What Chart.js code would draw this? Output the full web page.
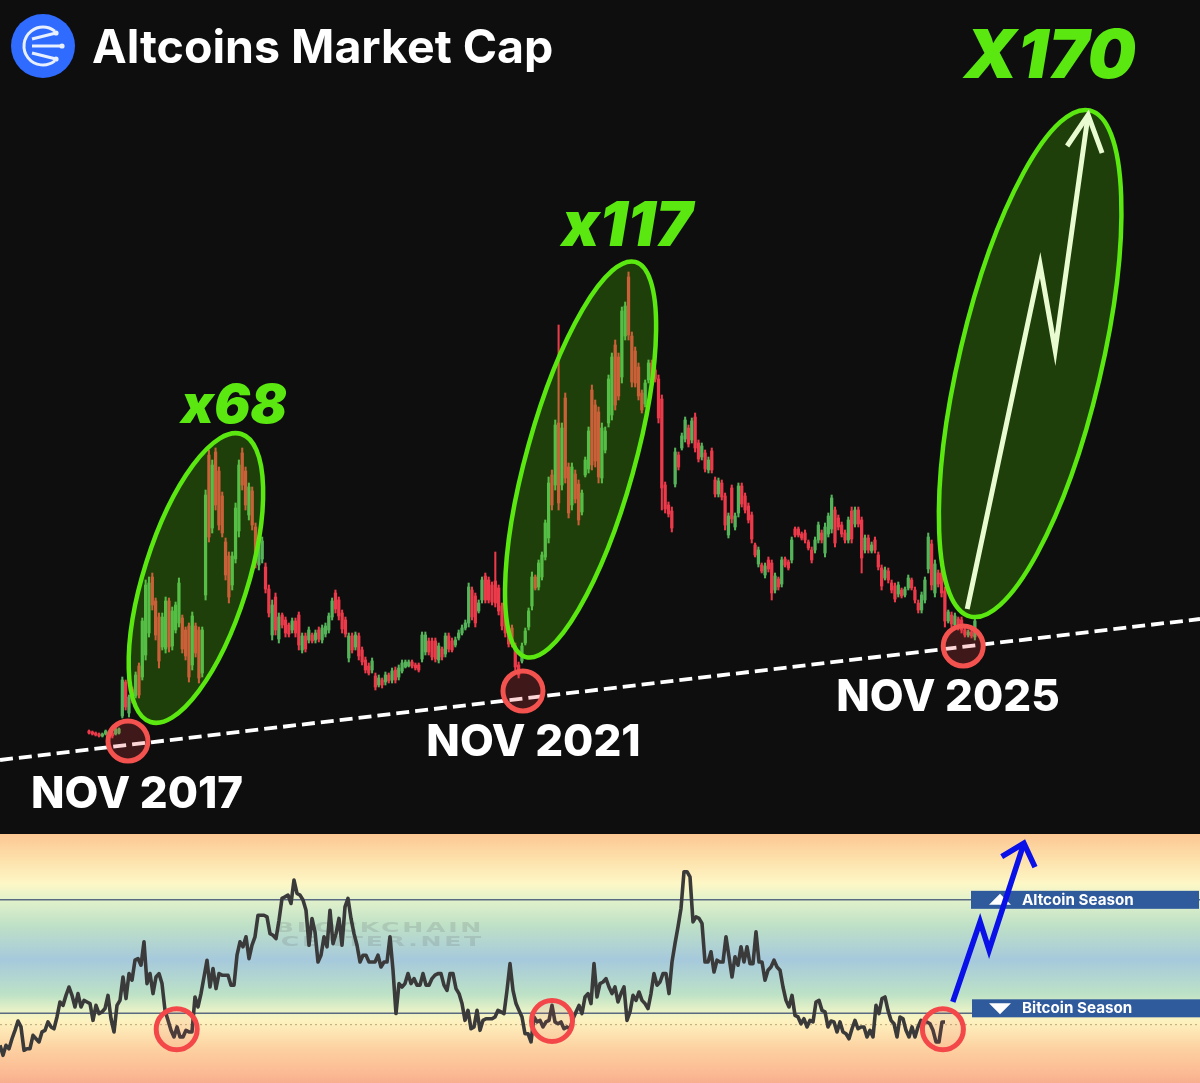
<!DOCTYPE html>
<html>
<head>
<meta charset="utf-8">
<title>Altcoins Market Cap</title>
<script src="https://cdn.jsdelivr.net/npm/chart.js@4"></script>
<style>
  html, body { margin: 0; padding: 0; background: #0e0e0e; overflow: hidden; }
  canvas { position: absolute; left: 0; display: block; }
  #priceChart { top: 0; }
  #seasonChart { top: 834px; }
</style>
</head>
<body>
<canvas id="priceChart" width="1200" height="833"></canvas>
<canvas id="seasonChart" width="1200" height="249"></canvas>
<script>
// weekly-ish candles, heights (no axis in the original, so relative units)
const highs = [103,102,101,100,100,103,101,101,105,105,156,153,138,146,161,170,215,253,256,260,235,220,220,236,235,226,231,255,218,206,210,221,210,206,206,343,383,373,385,366,341,295,281,281,330,373,385,366,350,346,310,298,296,270,248,233,240,220,220,216,210,215,215,221,200,200,206,200,203,206,208,210,220,235,243,236,223,216,200,200,201,200,186,176,170,175,160,158,
  155,161,160,165,166,168,173,173,173,173,170,170,201,201,195,195,195,190,186,200,200,195,196,203,208,213,250,246,240,233,256,260,256,251,281,248,230,223,206,208,190,171,190,205,225,261,258,273,281,313,356,363,413,508,410,440,370,370,363,353,343,376,406,448,433,426,410,406,458,480,493,480,526,531,561,501,486,470,443,453,473,473,466,458,438,351,331,326,385,
  381,400,416,408,415,420,393,390,383,376,385,356,355,353,340,320,348,320,350,350,340,330,321,290,286,270,270,276,273,260,256,276,276,273,296,306,306,301,303,293,286,296,311,303,310,320,338,326,318,311,303,316,326,326,326,316,298,298,291,296,281,268,266,265,253,250,251,245,246,258,255,246,233,241,256,300,293,273,263,263,246,223,221,220,216,216,205,203,203,216];
const lows = [99,98,97,96,96,98,98,95,98,99,115,123,116,130,135,135,153,173,196,223,193,165,183,180,181,183,200,206,180,173,151,163,176,150,156,233,291,300,323,303,296,253,230,243,270,296,343,323,313,303,265,263,270,240,216,193,198,190,205,196,196,200,196,183,180,181,190,190,190,191,190,196,200,213,220,213,200,196,171,180,183,173,168,160,158,160,143,146,
  145,148,150,150,150,153,160,165,166,165,163,161,171,178,178,173,171,170,173,176,181,181,186,193,198,203,206,213,206,220,230,230,230,228,226,218,203,196,186,186,163,155,170,188,203,223,243,243,253,273,290,323,343,323,343,350,315,323,330,308,318,356,360,363,366,350,350,380,406,413,423,433,450,493,493,446,446,433,420,426,450,450,451,410,323,320,316,301,346,
  363,383,391,386,390,381,371,373,361,360,360,336,336,333,303,295,310,303,316,326,320,310,290,276,266,260,255,261,233,240,243,246,266,263,270,296,296,293,290,283,270,280,290,290,276,296,300,286,303,296,290,290,290,306,306,260,280,280,280,280,263,243,253,250,240,231,236,235,236,243,243,230,220,220,230,260,243,236,246,236,206,210,206,206,203,200,196,196,195,193];
const opens = [102,101,100,99,97,99,100,100,99,100,117,151,120,144,137,167,156,178,200,256,232,216,186,184,232,187,203,210,215,203,207,168,207,203,160,238,378,305,381,362,337,291,277,248,274,302,380,362,318,342,306,268,274,266,244,198,236,194,218,213,208,203,212,218,183,197,193,198,193,203,193,199,203,216,240,233,220,213,175,197,186,197,183,173,167,163,157,148,
  153,151,158,153,163,156,162,166,167,171,168,168,174,181,192,192,192,173,184,179,197,192,188,195,200,205,210,243,237,222,233,257,253,248,252,245,227,220,203,205,187,168,172,190,206,227,256,246,256,276,295,358,348,410,348,435,366,328,359,349,321,358,364,443,428,421,355,383,410,418,488,476,456,497,556,497,482,466,440,429,453,470,463,454,434,348,328,322,349,
  378,385,394,405,393,416,390,376,380,363,382,353,339,350,337,298,345,306,320,347,337,327,318,288,269,268,258,273,270,243,254,249,274,271,273,304,304,299,300,291,283,283,293,300,280,299,304,323,315,308,300,293,322,309,323,313,283,295,282,293,278,265,255,262,250,247,239,243,238,245,253,243,230,223,233,264,289,240,260,260,242,212,218,208,214,213,203,198,201,196];
const closes = [100,99,98,97,99,102,99,97,104,104,153,126,136,133,158,138,212,248,250,228,198,172,216,232,186,222,228,250,184,177,156,217,180,155,203,338,296,368,328,308,300,258,236,277,325,368,348,328,346,308,270,294,292,244,220,228,203,216,208,200,199,212,200,188,197,184,203,192,200,194,205,207,217,232,224,217,204,199,197,183,198,177,171,163,160,172,146,155,
  148,158,152,162,153,165,170,171,171,167,165,163,198,198,181,176,174,187,176,197,184,183,193,200,205,210,246,216,210,230,253,233,233,231,230,222,207,200,189,189,166,158,187,202,222,256,245,270,278,310,350,328,408,330,405,355,320,366,334,313,340,373,402,368,372,356,405,402,454,476,428,437,522,527,498,451,450,437,423,450,470,453,454,415,345,324,319,305,381,
  366,397,413,389,412,385,374,387,364,373,363,339,352,336,308,317,314,317,347,329,323,313,294,278,283,262,267,264,240,257,246,273,268,265,293,298,298,295,293,285,273,293,308,293,306,317,335,290,306,299,293,313,294,323,309,275,295,283,288,283,266,247,263,253,243,234,248,237,244,255,245,233,223,238,253,296,248,269,249,240,212,221,209,217,205,203,198,201,197,212];

// altcoin season index, 0-100, one reading every 3px of the original
const altSeason = [10.9,6.5,10.9,9.4,13.8,17.5,21.6,19,8.7,9.4,9.4,15.3,13.8,12.4,16.8,17.5,21.2,19,18.2,23.4,30,28.5,32.9,36.6,32.9,27.8,33.7,27.8,30.7,30,29.3,21.9,28.5,24.9,25.6,27.1,32.9,22.6,16.8,28.5,30.7,41,31.5,42.5,39.6,48.4,49.1,46.2,56.5,38.1,42.5,33.7,41,42.5,38.1,26.3,21.9,17.5,14.6,19,14.6,14.6,17.5,16.8,16.8,32.2,27.8,33.7,41,48.4,36.6,44.7,35.9,42.5,41.8,41.8,41.8,37.4,37.4,50.6,56.5,54.3,58.7,49.1,55,58.7,68.2,68.2,68.2,67.5,60.1,59.4,57.9,66,75.6,76.3,77.1,73.4,83.7,77.8,77.1,74.9,70.4,55,66.8,60.9,47.6,50.6,58.7,54.3,70.4,55.7,60.1,66.8,55,71.9,75.6,66.8,60.1,55,47.6,50.6,50.6,47.6,47.6,47.6,50.6,45.4,47.6,47.6,58.7,44,24.9,38.1,
  36.6,38.1,42.5,38.1,40.3,37.4,37.4,42.5,37.4,37.4,40.3,41.8,42.5,42.5,37.4,35.1,42.5,42.5,35.9,33.7,29.3,21.9,26.3,18.2,19,26.3,17.5,21.9,22.6,22.6,22.6,23.4,26.3,25.6,24.9,35.1,46.9,35.1,29.3,26.3,23.4,16,16,12.4,23.4,21.2,21.9,19,21.2,21.9,28.5,21.2,20.4,21.2,18.2,19,18.2,22.6,25.6,28.5,24.9,32.2,33.7,29.3,46.9,32.2,38.1,38.8,40.3,36.6,33.7,36.6,30,33.7,36.6,21.9,25.6,32.9,30.7,34.4,30.7,29.3,27.1,33.7,42.5,37.4,38.8,42.5,42.5,33.7,47.6,55.7,63.1,71.2,87.4,87.4,85.1,65.3,67.5,66.8,64.6,47.6,47.6,52.1,43.2,48.4,47.6,47.6,58.7,49.9,41,49.9,46.2,54.3,47.6,54.3,46.9,46.9,60.9,47.6,47.6,39.6,44,45.4,48.4,45.4,44,36.6,30.7,27.8,32.9,24.1,23.4,20.4,
  22.6,19,21.9,21.2,30,30.7,26.3,25.6,19,21.6,21.2,16.8,21.2,16.8,16,13.8,18.2,21.9,18.2,19,19,14.6,17.5,14.6,28.5,24.9,31.5,32.2,26.3,21.9,20.4,14.6,23.4,22.6,17.5,14.6,19,14.6,19,21.9,21.2,21.2,20.4,17.5,12.4,12.4,21.2,21.2];

const altcoinLevel = 75;
const bitcoinLevel = 25;
const neutralLevel = 20;

// drawn notes on the price panel, in chart units (candle index, relative height)
const trendX = [-26.73, 333.6];
const trendY = [73, 214];
const arrowX = [263.7, 285.6, 290.1, 300];
const arrowY = [224, 568, 483, 718];
const arrowHeadX = [293.7, 300, 304.2];
const arrowHeadY = [687, 718, 680];
const rallies = [
  { x: 32.1, y: 255, major: 151, minor: 52, tilt: 17.5 },
  { x: 147.6, y: 373.5, major: 205, minor: 54, tilt: 15.5 },
  { x: 282.6, y: 469.5, major: 260, minor: 71, tilt: 13.25 }
];
const bottoms = [
  { x: 11.7, y: 92, label: 'NOV 2017', labelX: 137, labelY: 795 },
  { x: 130.3, y: 142, label: 'NOV 2021', labelX: 533.5, labelY: 743 },
  { x: 262.5, y: 187, label: 'NOV 2025', labelX: 948, labelY: 698 }
];
const gains = [
  { text: 'x68', x: 234, y: 407, size: 54 },
  { text: 'x117', x: 627, y: 227, size: 62 },
  { text: 'X170', x: 1050, y: 58, size: 68 }
];

// same for the season panel (x = reading index)
const seasonArrowX = [317.6, 326.7, 329.7, 341.3];
const seasonArrowY = [30, 65.3, 52.9, 99.9];
const seasonHeadX = [333.9, 341.3, 345];
const seasonHeadY = [94, 99.9, 89.4];
const seasonBottoms = [{ x: 58.9, y: 18 }, { x: 184, y: 21.6 }, { x: 314.3, y: 18 }];

const GREEN = '#55b45a';
const RED = '#ec3a4a';
const candleColors = opens.map((o, i) => closes[i] >= o ? GREEN : RED);
const candleIds = opens.map((o, i) => i);

function xy(xs, ys) {
  return xs.map((x, i) => ({ x: x, y: ys[i] }));
}

const notesPlugin = {
  id: 'notes',
  beforeDatasetDraw(chart, args) {
    if (chart.data.datasets[args.index].label !== 'arrow') return;
    const ctx = chart.ctx, sx = chart.scales.x, sy = chart.scales.y;
    ctx.save();
    rallies.forEach(e => {
      ctx.beginPath();
      ctx.ellipse(sx.getPixelForValue(e.x), sy.getPixelForValue(e.y), e.minor, e.major, e.tilt * Math.PI / 180, 0, Math.PI * 2);
      ctx.fillStyle = 'rgba(85, 225, 0, 0.23)';
      ctx.fill();
      ctx.lineWidth = 4.5;
      ctx.strokeStyle = '#5ae810';
      ctx.stroke();
    });
    bottoms.forEach(b => {
      ctx.beginPath();
      ctx.arc(sx.getPixelForValue(b.x), sy.getPixelForValue(b.y), 20, 0, Math.PI * 2);
      ctx.fillStyle = 'rgba(240, 70, 70, 0.22)';
      ctx.fill();
      ctx.lineWidth = 5;
      ctx.strokeStyle = '#f4524f';
      ctx.stroke();
    });
    ctx.restore();
  },
  afterDraw(chart) {
    const ctx = chart.ctx;
    ctx.save();
    // logo
    ctx.fillStyle = '#2f6bff';
    ctx.beginPath();
    ctx.arc(43, 46, 32, 0, Math.PI * 2);
    ctx.fill();
    ctx.strokeStyle = '#e8f0ff';
    ctx.lineWidth = 3;
    ctx.beginPath();
    ctx.arc(43, 46, 19, 0.9, Math.PI * 2 - 0.9);
    ctx.stroke();
    [[32, 39, 56, 33], [32, 46, 62, 46], [32, 53, 56, 59]].forEach(l => {
      ctx.beginPath();
      ctx.moveTo(l[0], l[1]);
      ctx.lineTo(l[2], l[3]);
      ctx.stroke();
      ctx.fillStyle = '#e8f0ff';
      ctx.beginPath();
      ctx.arc(l[2], l[3], 2.6, 0, Math.PI * 2);
      ctx.fill();
    });
    // title
    ctx.fillStyle = '#ffffff';
    ctx.font = 'bold 46.5px Inter';
    ctx.textBaseline = 'alphabetic';
    ctx.textAlign = 'left';
    ctx.fillText('Altcoins Market Cap', 92, 63);
    // labels
    ctx.textAlign = 'center';
    ctx.textBaseline = 'middle';
    ctx.font = '800 43.8px Inter';
    bottoms.forEach(b => ctx.fillText(b.label, b.labelX, b.labelY));
    ctx.fillStyle = '#5ae810';
    gains.forEach(g => {
      ctx.font = 'italic 900 ' + g.size + 'px Inter';
      ctx.fillText(g.text, g.x, g.y);
    });
    ctx.restore();
  }
};

const seasonPlugin = {
  id: 'season',
  beforeDraw(chart) {
    const ctx = chart.ctx, h = chart.height;
    const g = ctx.createLinearGradient(0, 0, 0, h);
    [[0, '#fcc793'], [0.1, '#fde0aa'], [0.2, '#fdf7c6'], [0.26, '#e4f2cb'], [0.365, '#bfe1c6'], [0.505, '#a6c9dc'],
     [0.645, '#bde2c6'], [0.705, '#e5f1c7'], [0.75, '#fdf3c0'], [0.865, '#fdd0a0'], [0.965, '#fbb993'], [1, '#f7ae8e']]
      .forEach(s => g.addColorStop(s[0], s[1]));
    ctx.fillStyle = g;
    ctx.fillRect(0, 0, chart.width, h);
    // watermark, stretched wide like the original
    ctx.save();
    ctx.fillStyle = 'rgba(120, 130, 130, 0.25)';
    ctx.font = 'bold 14px "DejaVu Sans"';
    ctx.textBaseline = 'middle';
    ctx.textAlign = 'right';
    ctx.scale(1.8, 1);
    ctx.letterSpacing = '1.5px';
    ctx.fillText('BLOCKCHAIN', 484 / 1.8, 94);
    ctx.fillText('CENTER.NET', 484 / 1.8, 108);
    ctx.restore();
  },
  beforeDatasetDraw(chart, args) {
    if (chart.data.datasets[args.index].label !== 'arrow') return;
    const ctx = chart.ctx, sx = chart.scales.x, sy = chart.scales.y;
    ctx.save();
    // season tags
    [['Altcoin Season', altcoinLevel, 971, 1], ['Bitcoin Season', bitcoinLevel, 972, -1]].forEach(t => {
      const y = sy.getPixelForValue(t[1]);
      const mid = t[1] === altcoinLevel ? y : y - 5;
      ctx.fillStyle = '#2f5a9c';
      ctx.fillRect(t[2], mid - 9, 228, 18);
      ctx.fillStyle = '#ffffff';
      ctx.beginPath();
      ctx.moveTo(989, mid + t[3] * 5);
      ctx.lineTo(1011, mid + t[3] * 5);
      ctx.lineTo(1000, mid - t[3] * 6);
      ctx.closePath();
      ctx.fill();
      ctx.font = 'bold 15.2px Inter';
      ctx.textAlign = 'left';
      ctx.textBaseline = 'middle';
      ctx.fillText(t[0], 1022, mid + 0.5);
    });
    seasonBottoms.forEach(b => {
      ctx.beginPath();
      ctx.arc(sx.getPixelForValue(b.x), sy.getPixelForValue(b.y), 20.5, 0, Math.PI * 2);
      ctx.fillStyle = 'rgba(240, 80, 70, 0.1)';
      ctx.fill();
      ctx.lineWidth = 5;
      ctx.strokeStyle = '#f3474a';
      ctx.stroke();
    });
    ctx.restore();
  }
};

new Chart(document.getElementById('priceChart').getContext('2d'), {
  type: 'bar',
  plugins: [notesPlugin],
  data: {
    labels: candleIds,
    datasets: [
      {
        type: 'bar', label: 'wick', grouped: false, order: 4, barThickness: 1.4,
        data: lows.map((l, i) => [l, highs[i]]), backgroundColor: candleColors
      },
      {
        type: 'bar', label: 'body', grouped: false, order: 3, barThickness: 2.6,
        data: opens.map((o, i) => [o, closes[i]]), backgroundColor: candleColors
      },
      {
        type: 'line', label: 'trend', order: 2, data: xy(trendX, trendY),
        borderColor: '#ffffff', borderWidth: 3.8, borderDash: [13, 6], pointRadius: 0
      },
      {
        type: 'line', label: 'arrow', order: 1, data: xy(arrowX, arrowY),
        borderColor: '#e9fbd0', borderWidth: 5, pointRadius: 0, borderJoinStyle: 'miter'
      },
      {
        type: 'line', label: 'arrowHead', order: 0, data: xy(arrowHeadX, arrowHeadY),
        borderColor: '#e9fbd0', borderWidth: 5, pointRadius: 0
      }
    ]
  },
  options: {
    responsive: false,
    animation: false,
    layout: { padding: 0 },
    plugins: { legend: { display: false }, tooltip: { enabled: false } },
    scales: {
      x: { type: 'linear', offset: false, min: -26.73, max: 333.6, display: false },
      y: { type: 'linear', min: 0, max: 833, display: false }
    }
  }
});

const lastX = 400;
new Chart(document.getElementById('seasonChart').getContext('2d'), {
  type: 'line',
  plugins: [seasonPlugin],
  data: {
    datasets: [
      {
        label: 'altcoin level', order: 5, data: xy([0, lastX], [altcoinLevel, altcoinLevel]),
        borderColor: '#5a6a80', borderWidth: 1.5, pointRadius: 0
      },
      {
        label: 'bitcoin level', order: 5, data: xy([0, lastX], [bitcoinLevel, bitcoinLevel]),
        borderColor: '#5a6a80', borderWidth: 1.5, pointRadius: 0
      },
      {
        label: 'neutral', order: 5, data: xy([0, lastX], [neutralLevel, neutralLevel]),
        borderColor: '#b8a878', borderWidth: 1, borderDash: [2, 3], pointRadius: 0
      },
      {
        label: 'season index', order: 3, data: altSeason.map((v, i) => ({ x: i, y: v })),
        borderColor: '#3a3a3a', borderWidth: 3.6, pointRadius: 0, borderJoinStyle: 'round'
      },
      {
        label: 'arrow', order: 1, data: xy(seasonArrowX, seasonArrowY),
        borderColor: '#0a10e8', borderWidth: 5.5, pointRadius: 0
      },
      {
        label: 'arrowHead', order: 0, data: xy(seasonHeadX, seasonHeadY),
        borderColor: '#0a10e8', borderWidth: 5.5, pointRadius: 0
      }
    ]
  },
  options: {
    responsive: false,
    animation: false,
    layout: { padding: 0 },
    plugins: { legend: { display: false }, tooltip: { enabled: false } },
    scales: {
      x: { type: 'linear', min: 0, max: lastX, display: false },
      y: { type: 'linear', min: -5.7, max: 104, display: false }
    }
  }
});
</script>
</body>
</html>
